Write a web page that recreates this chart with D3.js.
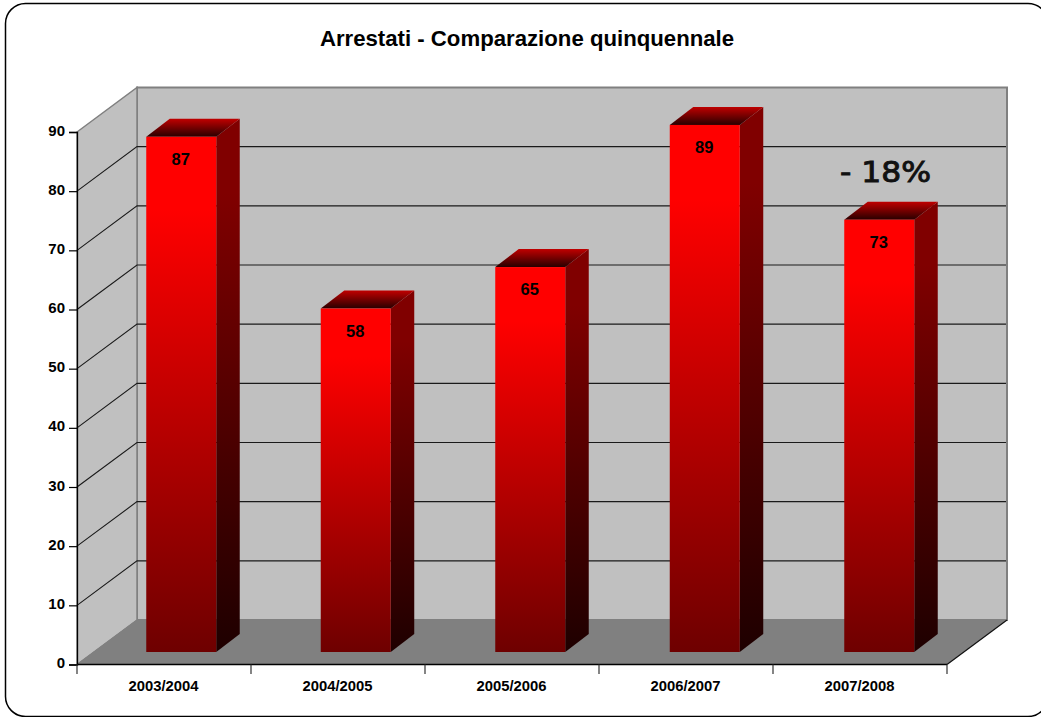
<!DOCTYPE html>
<html><head><meta charset="utf-8">
<script src="https://cdn.jsdelivr.net/npm/d3@7/dist/d3.min.js"></script>
<style>html,body{margin:0;padding:0;background:#fff;overflow:hidden}svg{display:block}
text{font-family:"Liberation Sans",Arial,sans-serif;font-weight:bold;fill:#000}</style>
</head><body><svg id="c" width="1041" height="717"></svg>
<script>
const categories = ["2003/2004","2004/2005","2005/2006","2006/2007","2007/2008"];
const values = [87,58,65,89,73];
const yTicks = [0,10,20,30,40,50,60,70,80,90];
const title = "Arrestati - Comparazione quinquennale";
const note = "- 18%";

const svg = d3.select("#c");
const W = {l:77,r:947,front:664.5,top:132,dx:60,dy:-44.5};
const x = d3.scaleBand().domain(categories).range([W.l,W.r]);
const barX = d3.scaleBand().domain(categories).range([94,966.5]);
const y = d3.scaleLinear().domain([0,90]).range([W.front,W.top]);
const barY = d3.scaleLinear().domain([0,90]).range([652,119]);
const barW = 70, bdx = 23.5, bdy = -18;

const defs = svg.append("defs");
function grad(id,x2,y2,stops){
  const g = defs.append("linearGradient").attr("id",id).attr("x1",0).attr("y1",0).attr("x2",x2).attr("y2",y2);
  stops.forEach(s=>g.append("stop").attr("offset",s[0]).attr("stop-color",s[1]));
}
grad("front",0,1,[[0,"#ff0000"],[0.14,"#ff0000"],[1,"#6e0000"]]);
grad("side",0,1,[[0,"#800000"],[0.14,"#800000"],[1,"#1e0000"]]);
grad("top",0,1,[[0,"#c00000"],[1,"#280000"]]);

svg.append("rect").attr("x",5.5).attr("y",3.5).attr("width",1042.5).attr("height",713).attr("rx",20).attr("ry",20)
  .attr("fill","#fff").attr("stroke","#000").attr("stroke-width",1.5);

const pts = a=>a.map(p=>p.join(",")).join(" ");
const bx = W.l+W.dx, ty=W.top+W.dy, by=W.front+W.dy, rx=W.r+W.dx;
svg.append("polygon").attr("points",pts([[bx,ty],[rx,ty],[rx,by],[bx,by]])).attr("fill","#c0c0c0").attr("stroke","#808080").attr("stroke-width",2);
svg.append("polygon").attr("points",pts([[W.l,W.top],[bx,ty],[bx,by],[W.l,W.front]])).attr("fill","#c0c0c0").attr("stroke","#808080").attr("stroke-width",1.5);
svg.append("polygon").attr("points",pts([[W.l,W.front],[bx,by],[rx,by],[W.r,W.front]])).attr("fill","#808080");
svg.append("line").attr("x1",W.r).attr("y1",W.front).attr("x2",rx).attr("y2",by).attr("stroke","#111").attr("stroke-width",1.2);
svg.append("line").attr("x1",W.l).attr("y1",W.front).attr("x2",bx).attr("y2",by).attr("stroke","#808080");

const grid = yTicks.filter(t=>t>0 && t<90);
svg.append("g").selectAll("path").data(grid).join("path")
  .attr("d",t=>`M${W.l},${y(t)}L${bx},${y(t)+W.dy}L${rx-1},${y(t)+W.dy}`)
  .attr("fill","none").attr("stroke","#1a1a1a").attr("stroke-width",1.1);

const bars = svg.append("g").selectAll("g").data(values).join("g");
const bl = (d,i)=>barX(categories[i])+(barX.bandwidth()-barW)/2;
bars.append("polygon").attr("fill","url(#side)").attr("points",(d,i)=>{const l=bl(d,i)+barW,t=barY(d),b=barY(0);
  return pts([[l,t],[l+bdx,t+bdy],[l+bdx,b+bdy],[l,b]]);});
bars.append("polygon").attr("fill","url(#top)").attr("points",(d,i)=>{const l=bl(d,i),t=barY(d);
  return pts([[l,t],[l+bdx,t+bdy],[l+barW+bdx,t+bdy],[l+barW,t]]);});
bars.append("rect").attr("fill","url(#front)").attr("x",bl).attr("y",d=>barY(d)).attr("width",barW).attr("height",d=>barY(0)-barY(d));
bars.append("text").attr("x",(d,i)=>bl(d,i)+barW/2-0.5).attr("y",d=>barY(d)+28).attr("text-anchor","middle").attr("font-size",16.5).text(d=>d);

const ax = svg.append("g").attr("transform",`translate(${W.l},0)`)
  .call(d3.axisLeft(y).tickValues(yTicks).tickSize(8).tickPadding(4).tickFormat(d3.format("d")));
ax.select(".domain").attr("stroke","#000").attr("stroke-width",1.3);
ax.selectAll(".tick line").attr("stroke","#000").attr("stroke-width",1.2);
ax.selectAll("text").attr("font-size",15).attr("font-family",'"Liberation Sans"').attr("font-weight","bold").attr("dy","0.2em");

svg.append("line").attr("x1",W.l).attr("x2",W.r).attr("y1",W.front).attr("y2",W.front).attr("stroke","#000").attr("stroke-width",1.3);
const xt = categories.map(c=>x(c)).concat([W.r]);
svg.append("g").selectAll("line").data(xt).join("line").attr("x1",d=>d).attr("x2",d=>d).attr("y1",W.front).attr("y2",674).attr("stroke","#333").attr("stroke-width",1.2);
svg.append("g").selectAll("text").data(categories).join("text")
  .attr("x",d=>x(d)+x.bandwidth()/2-0.5).attr("y",691).attr("text-anchor","middle").attr("font-size",14.8).text(d=>d);

svg.append("text").attr("x",527).attr("y",45.5).attr("text-anchor","middle").attr("font-size",22.2).text(title);
svg.append("text").attr("x",840).attr("y",182)
  .attr("textLength",91).attr("lengthAdjust","spacingAndGlyphs")
  .style("font-family","'DejaVu Sans'").style("font-weight","normal").attr("font-size",27.5)
  .style("fill","#111").style("stroke","#111").style("stroke-width",0.9).text(note);
</script></body></html>
